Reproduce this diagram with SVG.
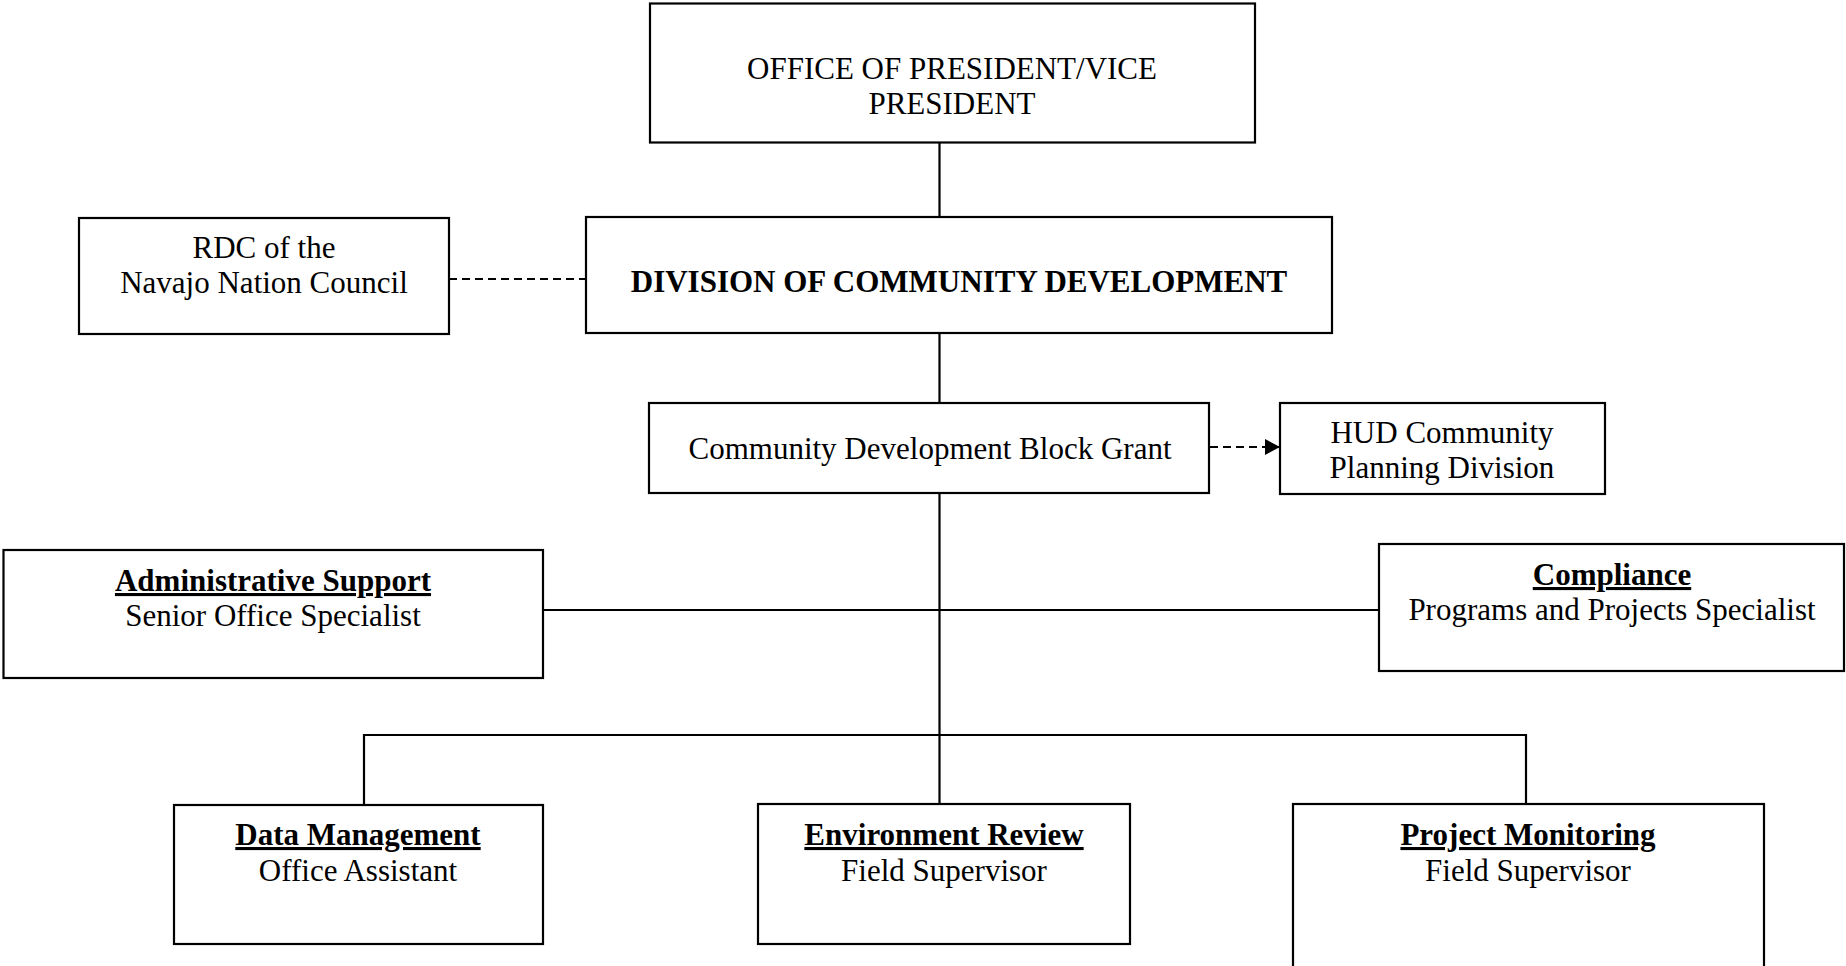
<svg xmlns="http://www.w3.org/2000/svg" width="1846" height="966" viewBox="0 0 1846 966">
<style>
.box{fill:#fff;stroke:#000;stroke-width:2.2}
.ln{fill:none;stroke:#000;stroke-width:2.2}
.dash{fill:none;stroke:#000;stroke-width:2.2;stroke-dasharray:8 5}
text{font-family:"Liberation Serif","Times New Roman",serif;font-size:31px;fill:#000;text-anchor:middle}
.b{font-weight:bold}
.u{font-weight:bold;text-decoration:underline}
</style>
<defs>
<marker id="arr" markerWidth="15" markerHeight="16" refX="15" refY="8" orient="auto" markerUnits="userSpaceOnUse">
<path d="M0,0 L15,8 L0,16 Z" fill="#000"/>
</marker>
</defs>
<rect width="1846" height="966" fill="#fff"/>
<g id="connectors">
<path class="ln" d="M939.5,142 V217 M939.5,333 V403 M939.5,493 V804"/>
<path class="ln" d="M543,610 H1379"/>
<path class="ln" d="M364,805 V735 H1526 V804"/>
<path class="dash" d="M449,279 H586"/>
<path class="dash" d="M1210,447 H1280" marker-end="url(#arr)"/>
</g>
<g id="president">
<rect class="box" x="650" y="3.5" width="605" height="139"/>
<text x="952" y="79">OFFICE OF PRESIDENT/VICE</text>
<text x="952" y="114">PRESIDENT</text>
</g>
<g id="division">
<rect class="box" x="586" y="217" width="746" height="116"/>
<text class="b" x="959" y="292">DIVISION OF COMMUNITY DEVELOPMENT</text>
</g>
<g id="rdc">
<rect class="box" x="79" y="218" width="370" height="116"/>
<text x="264" y="258">RDC of the</text>
<text x="264" y="293">Navajo Nation Council</text>
</g>
<g id="cdbg">
<rect class="box" x="649" y="403" width="560" height="90"/>
<text x="930" y="459">Community Development Block Grant</text>
</g>
<g id="hud">
<rect class="box" x="1280" y="403" width="325" height="91"/>
<text x="1442" y="443">HUD Community</text>
<text x="1442" y="478">Planning Division</text>
</g>
<g id="admin">
<rect class="box" x="3.5" y="550" width="539.5" height="128"/>
<text class="u" x="273" y="591">Administrative Support</text>
<text x="273" y="626">Senior Office Specialist</text>
</g>
<g id="compliance">
<rect class="box" x="1379" y="544" width="465" height="127"/>
<text class="u" x="1612" y="585">Compliance</text>
<text x="1612" y="620">Programs and Projects Specialist</text>
</g>
<g id="data">
<rect class="box" x="174" y="805" width="369" height="139"/>
<text class="u" x="358" y="845">Data Management</text>
<text x="358" y="881">Office Assistant</text>
</g>
<g id="environment">
<rect class="box" x="758" y="804" width="372" height="140"/>
<text class="u" x="944" y="845">Environment Review</text>
<text x="944" y="881">Field Supervisor</text>
</g>
<g id="monitoring">
<rect class="box" x="1293" y="804" width="471" height="180"/>
<text class="u" x="1528" y="845">Project Monitoring</text>
<text x="1528" y="881">Field Supervisor</text>
</g>
</svg>
